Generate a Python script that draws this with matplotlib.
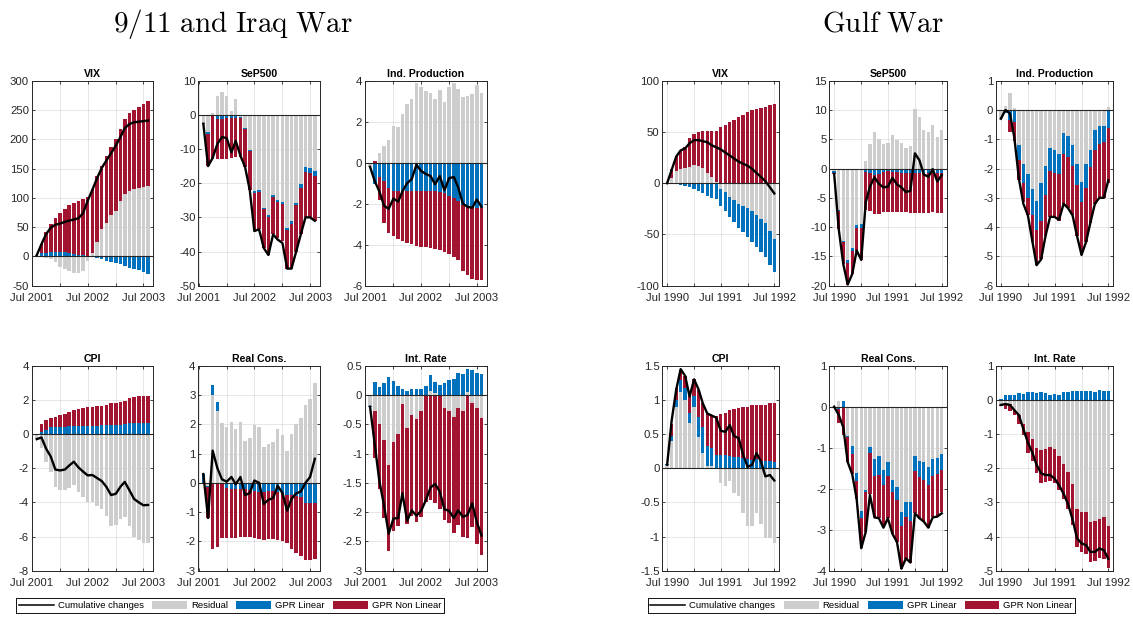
import numpy as np
import pandas as pd
import matplotlib
matplotlib.use('Agg')
import matplotlib.pyplot as plt
import matplotlib.dates as mdates
from matplotlib.patches import Patch
from matplotlib.lines import Line2D
from matplotlib.ticker import MultipleLocator, FuncFormatter

plt.rcParams['font.family'] = ['Liberation Sans', 'DejaVu Sans']
plt.rcParams['mathtext.fontset'] = 'cm'
plt.rcParams['axes.unicode_minus'] = False

# ---------------- data ----------------
dates_911 = pd.date_range('2001-08-01', periods=25, freq='MS')
dates_gulf = pd.date_range('1990-07-01', periods=25, freq='MS')

series_labels = ['Cumulative changes', 'Residual', 'GPR Linear', 'GPR Non Linear']
event_titles = ['9/11 and Iraq War', 'Gulf War']
panel_titles = ['VIX', 'SeP500', 'Ind. Production', 'CPI', 'Real Cons.', 'Int. Rate']

# 9/11 and Iraq War
vix911_res = [0, -1, -2, -5, -10, -18, -22, -25, -28, -29, -25, -8, 5, 25, 47, 57, 70, 78, 95, 107, 112, 115, 117, 118, 120]
vix911_lin = [2, 5, 6, 7, 8, 8, 7, 6, 4, 3, 2, 1, -1, -3, -5, -7, -9, -11, -13, -16, -19, -21, -24, -27, -30]
vix911_nl = [1, 17, 35, 49, 58, 66, 74, 81, 88, 92, 96, 101, 110, 112, 108, 115, 116, 122, 123, 128, 133, 135, 138, 142, 145]
vix911_cum = [2, 21, 38, 49, 54, 56, 59, 61, 63, 65, 74, 95, 114, 134, 151, 164, 176, 189, 204, 219, 226, 229, 230, 231, 232]

sp911_res = [-2.5, -5.0, 0.6, 5.5, 6.7, 5.5, 1.0, 4.5, -0.5, -3.7, -10.3, -22.3, -22.0, -27.2, -29.4, -23.4, -25.0, -25.4, -33.0, -31.0, -25.7, -20.2, -15.3, -15.5, -16.5]
sp911_lin = [-0.2, -0.5, -0.3, -1.2, -1.3, -1.0, -1.0, -0.8, -0.4, -0.4, -0.4, -0.5, -0.5, -0.4, -0.5, -0.5, -0.5, -0.6, -0.6, -1.0, -0.8, -1.3, -1.5, -1.4, -1.3]
sp911_nl = [-0.1, -9.5, -12.7, -11.8, -11.6, -11.8, -11.5, -11.5, -11.3, -11.1, -11.3, -11.2, -11.0, -11.4, -11.1, -11.1, -10.5, -11.0, -11.4, -13.0, -13.5, -13.5, -13.2, -13.1, -13.2]
sp911_cum = [-2.6, -15.0, -12.6, -8.5, -6.5, -6.8, -11.0, -7.6, -12.0, -15.2, -22.0, -34.0, -33.5, -39.0, -41.0, -35.0, -36.5, -37.5, -45.0, -45.0, -40.0, -35.0, -30.0, -30.0, -31.0]

ip911_res = [-0.2, 0.0, 0.45, 0.8, 1.1, 1.8, 1.75, 2.4, 2.85, 3.1, 3.9, 3.7, 3.5, 3.4, 3.1, 3.55, 2.95, 3.7, 3.9, 3.6, 3.2, 3.25, 3.35, 3.8, 3.4]
ip911_lin = [-0.02, -1.05, -0.7, -0.9, -1.25, -1.4, -1.4, -1.4, -1.4, -1.4, -1.4, -1.38, -1.37, -1.38, -1.4, -1.42, -1.5, -1.6, -1.72, -1.85, -2.05, -2.1, -2.15, -2.2, -2.2]
ip911_nl = [0.0, 0.1, -1.1, -2.05, -2.2, -2.2, -2.3, -2.4, -2.5, -2.55, -2.65, -2.72, -2.75, -2.77, -2.8, -2.83, -2.85, -2.85, -2.88, -2.9, -3.25, -3.4, -3.5, -3.5, -3.5]
ip911_cum = [-0.2, -0.9, -1.4, -2.1, -2.25, -1.75, -1.9, -1.4, -1.0, -0.8, -0.1, -0.4, -0.55, -0.65, -1.05, -0.65, -1.35, -0.75, -0.7, -1.2, -2.0, -2.15, -2.2, -1.8, -2.15]

cpi911_res = [-0.3, -0.8, -1.65, -2.25, -3.1, -3.25, -3.3, -3.15, -3.0, -3.4, -3.7, -4.0, -4.0, -4.2, -4.4, -4.8, -5.4, -5.35, -4.95, -4.85, -5.4, -6.0, -6.2, -6.4, -6.4]
cpi911_lin = [0.0, 0.1, 0.25, 0.4, 0.43, 0.43, 0.44, 0.45, 0.46, 0.47, 0.47, 0.47, 0.46, 0.47, 0.5, 0.52, 0.53, 0.53, 0.54, 0.6, 0.65, 0.67, 0.66, 0.64, 0.63]
cpi911_nl = [0.0, 0.5, 0.55, 0.53, 0.59, 0.69, 0.76, 0.85, 0.92, 0.98, 1.03, 1.1, 1.14, 1.15, 1.17, 1.2, 1.27, 1.3, 1.33, 1.35, 1.45, 1.51, 1.54, 1.56, 1.59]
cpi911_cum = [-0.3, -0.2, -0.85, -1.32, -2.08, -2.13, -2.08, -1.85, -1.62, -1.95, -2.2, -2.42, -2.4, -2.58, -2.75, -3.1, -3.57, -3.5, -3.08, -2.8, -3.3, -3.8, -4.0, -4.17, -4.15]

rc911_res = [0.0, -0.1, 3.0, 2.45, 2.05, 1.92, 2.08, 1.83, 2.07, 1.42, 1.52, 1.97, 1.92, 1.22, 1.32, 1.38, 1.85, 1.65, 1.1, 1.67, 2.02, 2.2, 2.65, 2.85, 3.42]
rc911_lin = [0.3, -0.05, 0.35, 0.3, -0.05, -0.18, -0.2, -0.2, -0.2, -0.22, -0.25, -0.27, -0.3, -0.3, -0.28, -0.28, -0.3, -0.35, -0.4, -0.42, -0.45, -0.5, -0.7, -0.7, -0.68]
rc911_nl = [0.0, -1.05, -2.25, -2.2, -1.85, -1.70, -1.67, -1.68, -1.66, -1.63, -1.61, -1.63, -1.62, -1.65, -1.65, -1.64, -1.65, -1.65, -1.65, -1.83, -1.93, -2.0, -1.95, -1.92, -1.92]
rc911_cum = [0.3, -1.2, 1.1, 0.5, 0.12, 0.04, 0.2, -0.05, 0.2, -0.42, -0.35, 0.08, 0.0, -0.72, -0.58, -0.52, -0.1, -0.35, -0.95, -0.55, -0.36, -0.3, 0.0, 0.2, 0.82]

ir911_res = [-0.18, -0.27, -0.49, -0.76, -1.2, -0.8, -0.66, -0.16, -0.56, -0.35, -0.41, -0.27, 0.0, 0.07, 0.03, 0.0, -0.22, -0.27, -0.38, -0.23, -0.27, 0.05, -0.13, -0.23, -0.4]
ir911_lin = [-0.02, 0.22, 0.13, 0.21, 0.31, 0.24, 0.15, 0.11, 0.07, 0.10, 0.11, 0.11, 0.15, 0.27, 0.20, 0.17, 0.21, 0.26, 0.27, 0.37, 0.36, 0.39, 0.43, 0.38, 0.36]
ir911_nl = [0.0, -0.80, -1.11, -1.34, -1.46, -1.53, -1.58, -1.63, -1.65, -1.71, -1.76, -1.81, -1.82, -1.79, -1.85, -1.94, -1.91, -1.92, -1.97, -1.99, -2.15, -2.45, -2.12, -2.32, -2.33]
ir911_cum = [-0.2, -0.85, -1.47, -1.89, -2.37, -2.11, -2.1, -1.68, -2.15, -1.97, -2.06, -1.98, -1.8, -1.58, -1.52, -1.65, -1.95, -1.98, -2.1, -1.97, -2.08, -2.05, -1.85, -2.17, -2.4]

# Gulf War
vixg_res = [0, 5, 12, 14, 15, 16, 18, 17, 15, 10, 6, 1, -6, -9, -13, -16, -20, -22, -24, -27, -31, -35, -39, -47, -54]
vixg_lin = [0, -0.5, -1, -1.5, -2.5, -4, -6, -8, -10, -12, -14, -15, -16, -18, -20, -22, -24, -26, -28, -30, -31, -32, -33, -33, -33]
vixg_nl = [0, 8.5, 15, 17.5, 20.5, 28, 30, 33, 36, 41, 45, 50, 55, 57, 60, 62, 65, 67, 69, 71, 72, 73, 74, 76, 77]
vixg_cum = [0, 13, 26, 32, 34, 39, 42, 42, 41, 40, 37, 35, 33, 30, 27, 24, 21, 19, 17, 14, 10, 6, 2, -4, -10]

spg_res = [-0.5, -7.0, -12.4, -15.6, -13.5, -9.6, -9.5, 1.3, 4.2, 6.3, 5.1, 4.2, 4.3, 5.8, 4.8, 4.3, 3.5, 3.8, 10.2, 8.8, 6.6, 6.2, 7.4, 5.4, 6.5]
spg_lin = [-0.3, -0.3, -0.2, -0.5, -0.6, -0.6, -0.6, -0.6, -0.7, -1.1, -0.9, -0.6, -0.5, -0.6, -0.6, -0.7, -0.7, -0.7, -0.7, -0.7, -0.7, -0.7, -0.7, -0.7, -0.7]
spg_nl = [-0.1, -3.0, -3.7, -3.7, -3.9, -3.8, -5.5, -6.4, -6.6, -6.7, -6.8, -6.8, -6.9, -6.8, -6.9, -6.8, -6.8, -6.9, -6.9, -6.9, -6.9, -6.9, -6.8, -6.9, -6.9]
spg_cum = [-0.9, -10.3, -16.3, -19.8, -18.0, -14.0, -15.6, -5.7, -3.1, -1.5, -2.6, -3.2, -3.1, -1.6, -2.7, -3.2, -4.0, -3.8, 2.6, 1.4, -1.0, -1.4, -0.1, -2.2, -1.1]

ipg_res = [-0.3, 0.12, 0.58, 0.08, -1.2, -1.85, -2.2, -2.7, -3.1, -2.5, -1.9, -1.3, -1.35, -1.5, -0.8, -0.9, -1.2, -1.85, -2.45, -1.85, -1.35, -0.7, -0.55, -0.55, 0.1]
ipg_lin = [0.0, -0.1, -0.35, -0.4, -0.5, -0.65, -0.8, -0.9, -1.0, -1.3, -1.0, -0.8, -0.8, -0.7, -0.7, -0.7, -0.7, -0.7, -0.7, -0.8, -0.6, -0.65, -0.6, -0.55, -0.6]
ipg_nl = [0.0, 0.03, -0.4, -0.65, -0.7, -0.65, -0.6, -0.9, -1.2, -1.3, -1.4, -1.55, -1.5, -1.6, -1.7, -1.75, -1.7, -1.75, -1.8, -1.85, -1.9, -1.85, -1.85, -1.9, -1.9]
ipg_cum = [-0.3, 0.0, -0.12, -0.95, -2.35, -3.2, -3.6, -4.5, -5.3, -5.1, -4.3, -3.65, -3.65, -3.75, -3.2, -3.35, -3.6, -4.3, -4.95, -4.5, -3.85, -3.2, -3.0, -3.0, -2.4]

cpig_res = [0.05, 0.4, 0.9, 1.12, 1.0, 0.66, 0.9, 0.46, 0.22, 0.03, 0.03, 0.0, -0.21, -0.26, -0.18, -0.36, -0.4, -0.66, -0.85, -0.84, -0.65, -0.82, -1.02, -1.02, -1.1]
cpig_lin = [0.01, 0.07, 0.1, 0.17, 0.17, 0.15, 0.15, 0.29, 0.38, 0.3, 0.27, 0.2, 0.19, 0.19, 0.18, 0.17, 0.16, 0.15, 0.13, 0.12, 0.13, 0.1, 0.1, 0.1, 0.09]
cpig_nl = [0.0, 0.18, 0.17, 0.14, 0.18, 0.24, 0.25, 0.39, 0.36, 0.47, 0.48, 0.57, 0.6, 0.62, 0.67, 0.7, 0.72, 0.74, 0.77, 0.8, 0.79, 0.83, 0.83, 0.85, 0.86]
cpig_cum = [0.05, 0.7, 1.15, 1.45, 1.35, 1.05, 1.3, 1.15, 0.95, 0.8, 0.77, 0.74, 0.55, 0.53, 0.63, 0.47, 0.44, 0.2, 0.02, 0.05, 0.22, 0.1, -0.12, -0.1, -0.18]

rcg_res = [-0.02, 0.15, 0.0, -0.72, -0.95, -1.62, -2.55, -2.02, -0.98, -1.28, -1.2, -1.55, -1.35, -1.78, -1.95, -2.57, -2.32, -2.33, -1.2, -1.33, -1.35, -1.48, -1.28, -1.25, -1.15]
rcg_lin = [0.0, -0.05, 0.15, -0.02, -0.2, -0.18, -0.17, -0.06, -0.14, -0.4, -0.47, -0.35, -0.33, -0.29, -0.33, -0.35, -0.38, -0.45, -0.38, -0.39, -0.43, -0.44, -0.4, -0.4, -0.4]
rcg_nl = [0.0, -0.35, -0.7, -0.61, -0.5, -0.45, -0.73, -0.97, -1.02, -1.02, -1.05, -1.03, -1.04, -1.03, -1.02, -1.03, -1.02, -1.02, -1.02, -1.01, -1.02, -1.03, -1.02, -1.03, -1.03]
rcg_cum = [0.0, -0.2, -0.5, -1.35, -1.65, -2.25, -3.45, -3.05, -2.15, -2.7, -2.72, -2.95, -2.72, -3.1, -3.3, -3.95, -3.7, -3.8, -2.6, -2.72, -2.8, -2.95, -2.7, -2.68, -2.6]

irg_res = [-0.15, -0.08, -0.13, -0.3, -0.45, -0.72, -0.93, -1.15, -1.4, -1.48, -1.45, -1.38, -1.45, -1.63, -1.88, -2.1, -2.45, -3.18, -3.28, -3.28, -3.58, -3.55, -3.48, -3.42, -3.7]
irg_lin = [0.02, 0.15, 0.14, 0.14, 0.2, 0.18, 0.23, 0.23, 0.21, 0.24, 0.2, 0.15, 0.16, 0.15, 0.22, 0.24, 0.25, 0.27, 0.25, 0.25, 0.27, 0.23, 0.28, 0.27, 0.26]
irg_nl = [-0.02, -0.2, -0.19, -0.15, -0.25, -0.31, -0.62, -0.65, -0.73, -0.94, -0.95, -1.0, -0.98, -1.02, -1.02, -1.1, -1.2, -1.12, -1.17, -1.22, -1.17, -1.17, -1.14, -1.23, -1.22]
irg_cum = [-0.15, -0.12, -0.15, -0.3, -0.45, -0.85, -1.25, -1.55, -1.9, -2.15, -2.2, -2.2, -2.3, -2.5, -2.75, -3.05, -3.5, -4.05, -4.2, -4.25, -4.45, -4.45, -4.35, -4.4, -4.65]

# ---------------- style / layout ----------------
W, H = 1133, 619
COL_RES = '#CDCDCD'
COL_LIN = '#0072BD'
COL_NL = '#A2142F'
AXC = '#262626'

# (left px, width px) per column, (top px) per row
cols_911 = [(31.7, 121.6), (198.3, 121.7), (365.0, 121.7)]
cols_gulf = [(662.3, 117.0), (829.3, 117.4), (996.0, 117.3)]
row_tops = [80.7, 365.7]
ax_h = 205.0

panels = [
    # (event, row, col, title_idx, res, lin, nl, cum, ylim, ystep)
    ('911', 0, 0, 0, vix911_res, vix911_lin, vix911_nl, vix911_cum, (-50, 300), 50),
    ('911', 0, 1, 1, sp911_res, sp911_lin, sp911_nl, sp911_cum, (-50, 10), 10),
    ('911', 0, 2, 2, ip911_res, ip911_lin, ip911_nl, ip911_cum, (-6, 4), 2),
    ('911', 1, 0, 3, cpi911_res, cpi911_lin, cpi911_nl, cpi911_cum, (-8, 4), 2),
    ('911', 1, 1, 4, rc911_res, rc911_lin, rc911_nl, rc911_cum, (-3, 4), 1),
    ('911', 1, 2, 5, ir911_res, ir911_lin, ir911_nl, ir911_cum, (-3, 0.5), 0.5),
    ('gulf', 0, 0, 0, vixg_res, vixg_lin, vixg_nl, vixg_cum, (-100, 100), 50),
    ('gulf', 0, 1, 1, spg_res, spg_lin, spg_nl, spg_cum, (-20, 15), 5),
    ('gulf', 0, 2, 2, ipg_res, ipg_lin, ipg_nl, ipg_cum, (-6, 1), 1),
    ('gulf', 1, 0, 3, cpig_res, cpig_lin, cpig_nl, cpig_cum, (-1.5, 1.5), 0.5),
    ('gulf', 1, 1, 4, rcg_res, rcg_lin, rcg_nl, rcg_cum, (-4, 1), 1),
    ('gulf', 1, 2, 5, irg_res, irg_lin, irg_nl, irg_cum, (-5, 1), 1),
]

fig = plt.figure(figsize=(W / 100, H / 100), dpi=100)


def xfmt(v, pos):
    d = mdates.num2date(v)
    return d.strftime('%b %Y') if d.month == 7 else ''


def yfmt(v, pos):
    s = '%g' % round(v, 6)
    return '0' if s == '-0' else s


for ev, r, c, ti, res, lin, nl, cum, ylim, ystep in panels:
    left, width = (cols_911 if ev == '911' else cols_gulf)[c]
    top = row_tops[r]
    ax = fig.add_axes([left / W, 1 - (top + ax_h) / H, width / W, ax_h / H])
    dates = dates_911 if ev == '911' else dates_gulf
    x = mdates.date2num(dates)

    pos_stack = np.zeros(len(x))
    neg_stack = np.zeros(len(x))
    for vals, col in ((res, COL_RES), (lin, COL_LIN), (nl, COL_NL)):
        v = np.asarray(vals, dtype=float)
        bottom = np.where(v >= 0, pos_stack, neg_stack)
        ax.bar(x, v, width=23, bottom=bottom, color=col, edgecolor='none',
               linewidth=0, zorder=2)
        pos_stack = pos_stack + np.where(v >= 0, v, 0)
        neg_stack = neg_stack + np.where(v < 0, v, 0)

    ax.axhline(0, color=AXC, lw=0.8, zorder=3)
    ax.plot(x, cum, color='black', lw=1.7, zorder=4, solid_joinstyle='round')

    ax.set_xlim(x[0] - 33, x[-1] + 34)
    ax.set_ylim(*ylim)
    ax.yaxis.set_major_locator(MultipleLocator(ystep))
    ax.yaxis.set_major_formatter(FuncFormatter(yfmt))
    ax.xaxis.set_major_locator(mdates.MonthLocator(bymonth=[1, 7]))
    ax.xaxis.set_major_formatter(FuncFormatter(xfmt))

    ax.set_axisbelow(True)
    ax.grid(True, color=AXC, alpha=0.13, lw=0.6)
    for sp in ax.spines.values():
        sp.set_color(AXC)
        sp.set_linewidth(0.7)
    ax.tick_params(direction='in', length=2.5, width=0.6, top=True, right=True,
                   labelsize=8.2, colors=AXC)
    ax.tick_params(axis='y', pad=2)
    ax.tick_params(axis='x', pad=5)
    ax.set_title(panel_titles[ti], fontsize=7.6, fontweight='bold', pad=3, color='black')

# event titles
fig.text(232.5 / W, 1 - 32 / H, r'$\mathrm{9/11\ and\ Iraq\ War}$', ha='center',
         va='baseline', fontsize=21)
fig.text(883 / W, 1 - 32 / H, r'$\mathrm{Gulf\ War}$', ha='center',
         va='baseline', fontsize=21)

# legends
handles = [Line2D([], [], color='black', lw=1.1),
           Patch(facecolor=COL_RES, edgecolor='none'),
           Patch(facecolor=COL_LIN, edgecolor='none'),
           Patch(facecolor=COL_NL, edgecolor='none')]
for cx in (230 / W, 861.5 / W):
    leg = fig.legend(handles, series_labels, loc='center', bbox_to_anchor=(cx, 1 - 605.5 / H),
                     ncol=4, fontsize=6.8, frameon=True, fancybox=False, edgecolor='black',
                     handlelength=3.7, handleheight=1.0, handletextpad=0.4,
                     columnspacing=0.9, borderpad=0.3, borderaxespad=0, framealpha=1)
    leg.get_frame().set_linewidth(0.6)
    fig.add_artist(leg)

fig.savefig('out.png', dpi=100)
